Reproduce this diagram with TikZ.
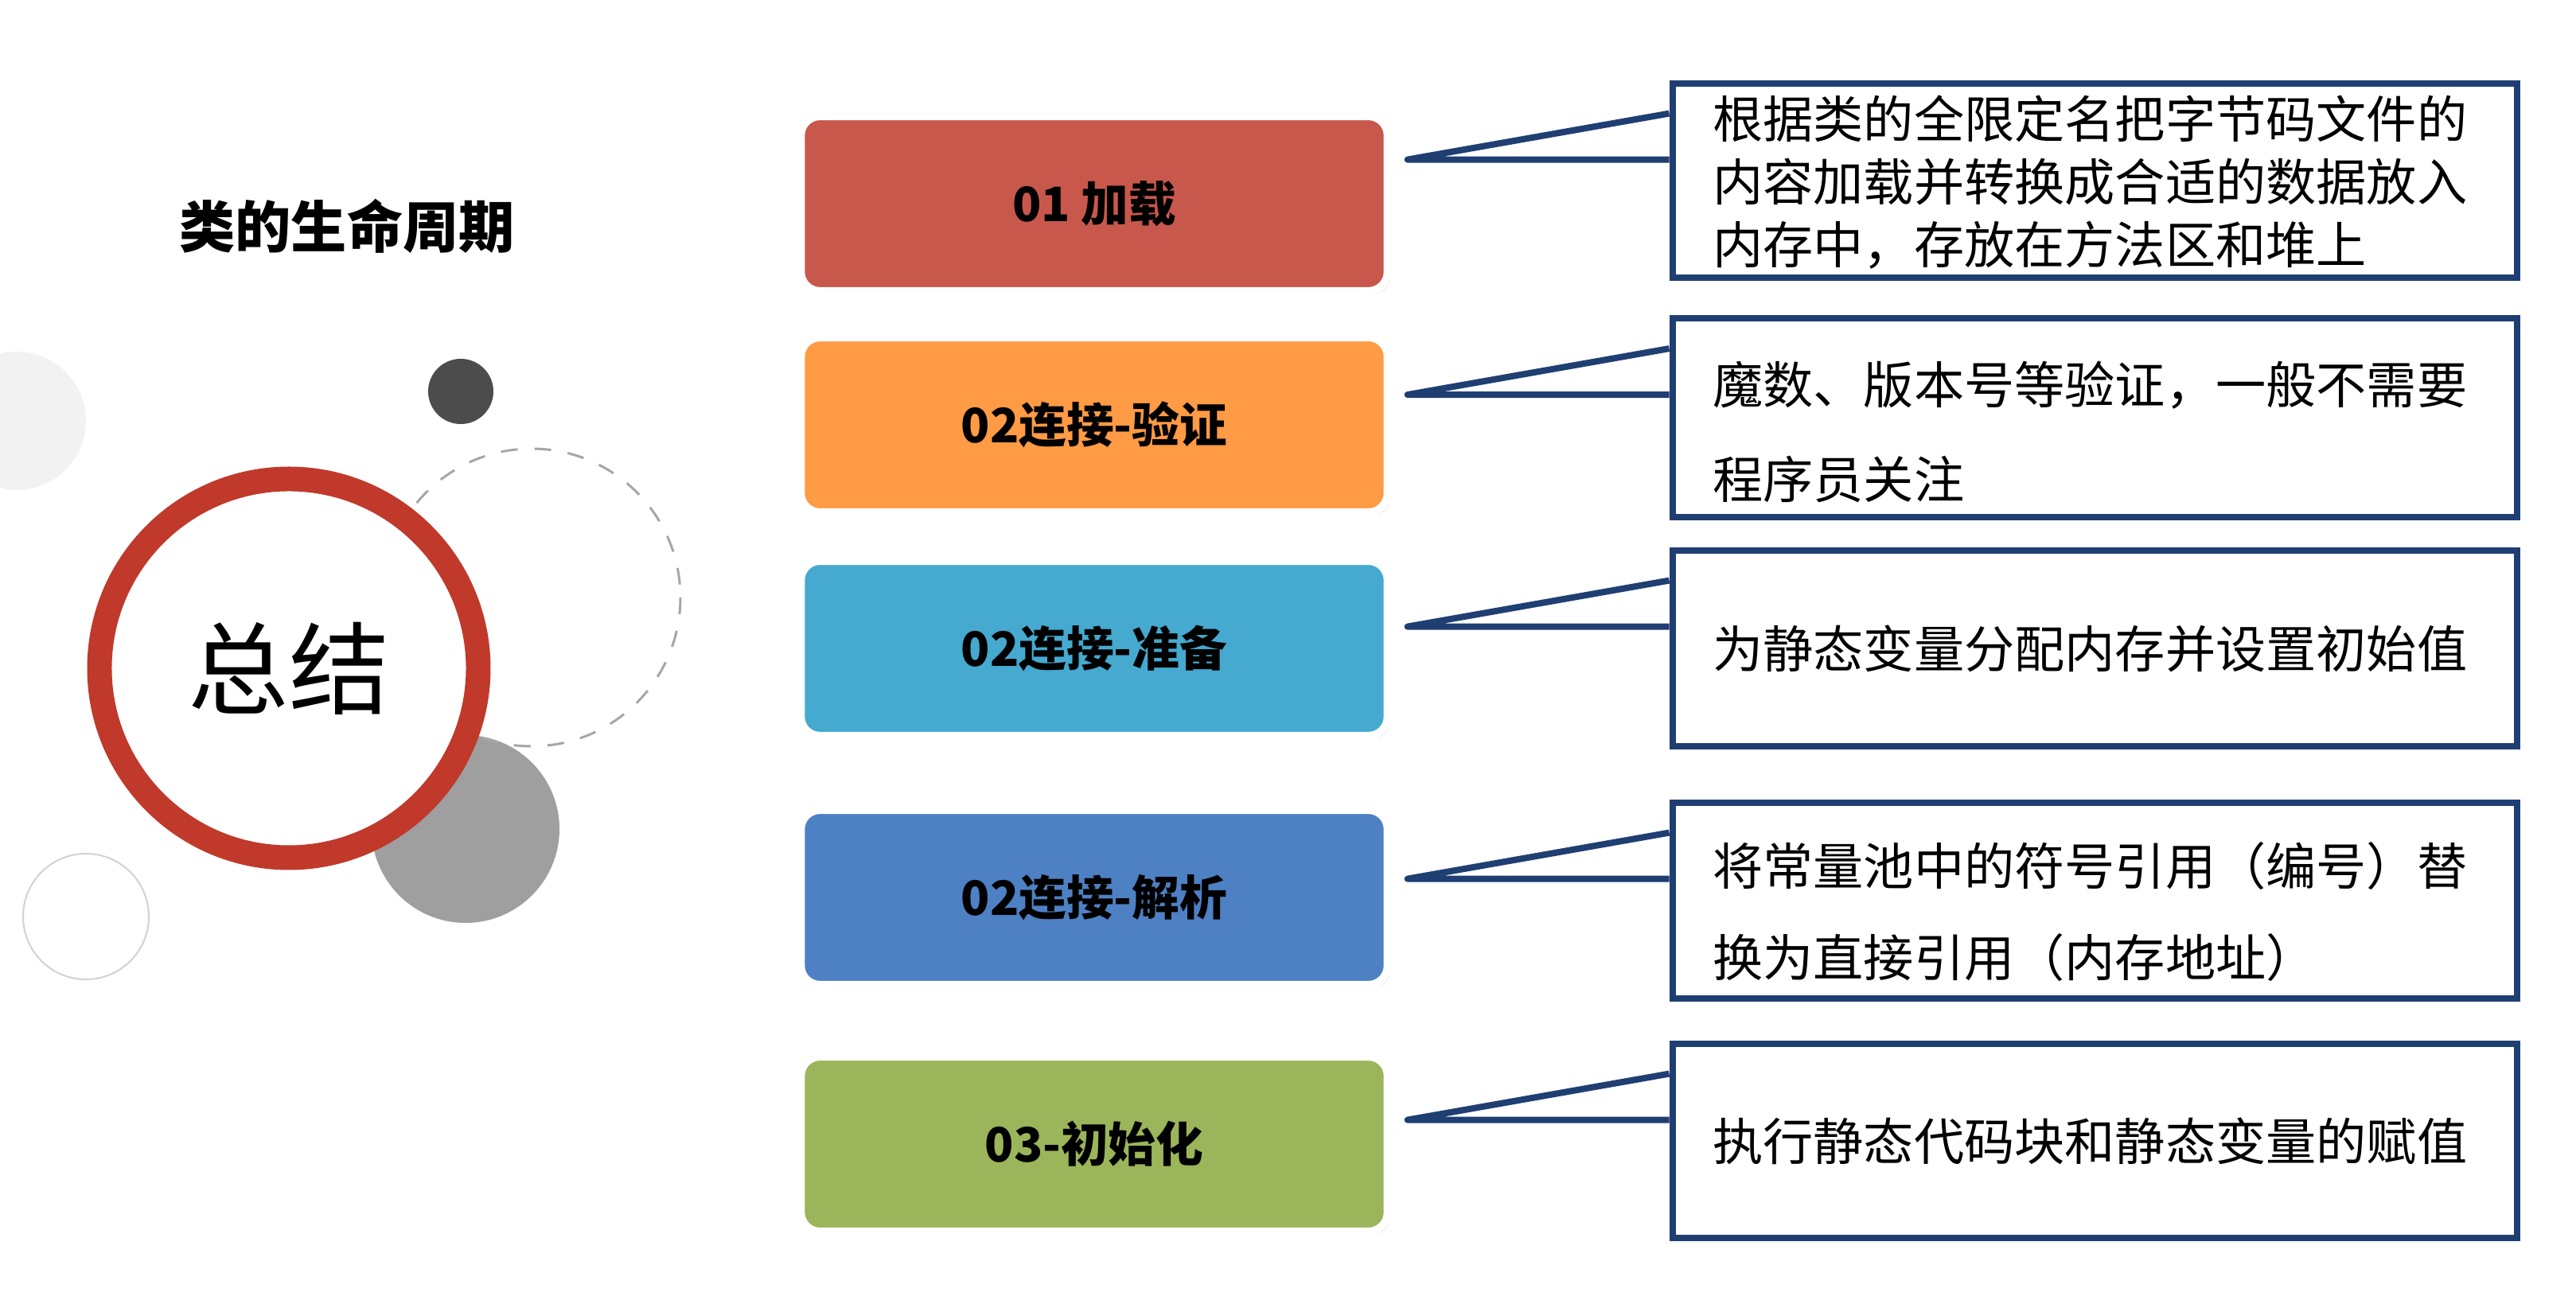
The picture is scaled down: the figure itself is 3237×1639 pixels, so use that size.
\documentclass[tikz,border=0pt]{standalone}
\usepackage{fontspec}
\setmainfont{Noto Sans CJK SC}
\usetikzlibrary{calc,shadows}
\definecolor{jiazai}{HTML}{C8584C}
\definecolor{yanzheng}{HTML}{FF9A45}
\definecolor{zhunbei}{HTML}{45A9D0}
\definecolor{jiexi}{HTML}{4E80C4}
\definecolor{chushi}{HTML}{9BB55A}
\definecolor{navy}{HTML}{1F3F73}
\definecolor{ringred}{HTML}{C0392B}
\tikzset{
    stage/.style={rounded corners=0.12cm, draw=white, line width=0.05cm,
        minimum width=3.69cm, minimum height=1.1cm, font=\fontsize{8.5}{10}\selectfont\bfseries,
        drop shadow={shadow xshift=0.02cm, shadow yshift=-0.02cm, opacity=0.25}},
    callout/.style={draw=navy, line width=0.04cm, minimum width=5.31cm, inner sep=0pt},
    note/.style={anchor=west, align=left, font=\fontsize{9}{11}\selectfont}
}
\begin{document}
\begin{tikzpicture}[x=0.005cm,y=-0.005cm]
\useasboundingbox (0,0) rectangle (3237,1639);
% left decoration
\fill[gray!10] (21,529) circle (87);
\draw[gray!35, line width=0.01cm] (108,1152) circle (79);
\fill[gray!75] (585,1042) circle (118);
\draw[gray!70, dashed, line width=0.015cm] (668,751) circle (187);
\fill[black!70] (579,492) circle (41);
\draw[ringred, line width=0.155cm, fill=white] (363,840) circle (238);
\node (sum) at (363,840) {\fontsize{18}{20}\selectfont 总结};
\node[font=\fontsize{10}{12}\selectfont\bfseries] (title) at (436,284) {类的生命周期};
% stages
\node[stage, fill=jiazai] (s1) at (1375,256) {01 加载};
\node[stage, fill=yanzheng] (s2) at (1375,534) {02连接-验证};
\node[stage, fill=zhunbei] (s3) at (1375,815) {02连接-准备};
\node[stage, fill=jiexi] (s4) at (1375,1128) {02连接-解析};
\node[stage, fill=chushi] (s5) at (1375,1438) {03-初始化};
% callouts
\node[callout, minimum height=1.225cm] (c1) at (2632,227) {};
\node[callout, minimum height=1.25cm] (c2) at (2632,525) {};
\node[callout, minimum height=1.235cm] (c3) at (2632,815) {};
\node[callout, minimum height=1.235cm] (c4) at (2632,1132) {};
\node[callout, minimum height=1.225cm] (c5) at (2632,1434) {};
\foreach \i in {1,...,5}{
  \coordinate (tip\i) at ($(s\i.east |- c\i.north west)+(20,100)$);
  \draw[navy, line width=0.04cm, fill=white, line join=round]
    ($(c\i.north west)+(0,42)$) -- (tip\i) -- ($(c\i.north west)+(0,100)$);
}
\node[note, font=\fontsize{9}{11.2}\selectfont] (t1) at ($(c1.west)+(30,2)$) {根据类的全限定名把字节码文件的\\内容加载并转换成合适的数据放入\\内存中，存放在方法区和堆上};
\node[note, font=\fontsize{9}{17}\selectfont] (t2) at ($(c2.west)+(30,18)$) {魔数、版本号等验证，一般不需要\\程序员关注};
\node[note] (t3) at ($(c3.west)+(30,0)$) {为静态变量分配内存并设置初始值};
\node[note, font=\fontsize{9}{16.3}\selectfont] (t4) at ($(c4.west)+(30,14)$) {将常量池中的符号引用（编号）替\\换为直接引用（内存地址）};
\node[note] (t5) at ($(c5.west)+(30,0)$) {执行静态代码块和静态变量的赋值};
\end{tikzpicture}
\end{document}
